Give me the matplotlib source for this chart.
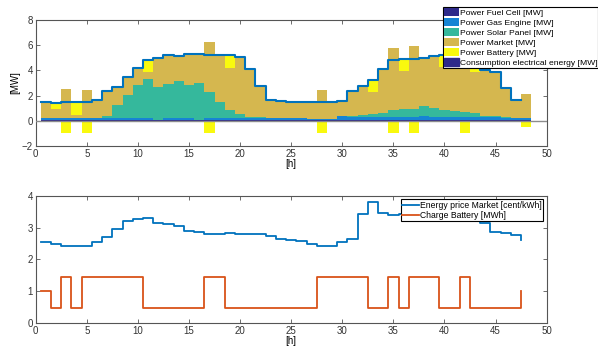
import numpy as np
import matplotlib
matplotlib.use("Agg")
import matplotlib.pyplot as plt
from matplotlib.patches import Patch

plt.rcParams["font.family"] = ["Liberation Sans", "DejaVu Sans"]
plt.rcParams["font.size"] = 7

# ---------------------------------------------------------------
# data
# ---------------------------------------------------------------
hours = np.arange(1, 49)

demand = [1.53, 1.42, 1.53, 1.47, 1.47, 1.67, 2.33, 2.67, 3.47, 4.20,
          4.84, 5.00, 5.22, 5.16, 5.33, 5.29, 5.24, 5.24, 5.22, 5.04,
          4.08, 2.80, 1.67, 1.61, 1.52, 1.52, 1.46, 1.46, 1.46, 1.59,
          2.38, 2.78, 3.25, 4.13, 4.79, 4.92, 4.90, 4.97, 5.16, 5.24,
          5.20, 5.00, 4.90, 4.05, 3.86, 2.59, 1.62, 1.62]

fuel_cell = [0.10] * 48

gas_engine = [0.12, 0.12, 0.12, 0.12, 0.12, 0.12, 0.12, 0.12, 0.12, 0.12,
              0.12, 0.00, 0.12, 0.12, 0.12, 0.00, 0.12, 0.12, 0.12, 0.12,
              0.12, 0.12, 0.12, 0.16, 0.16, 0.16, 0.08, 0.08, 0.08, 0.27,
              0.20, 0.20, 0.20, 0.20, 0.20, 0.20, 0.20, 0.30, 0.20, 0.20,
              0.20, 0.20, 0.20, 0.18, 0.18, 0.15, 0.15, 0.15]

solar = [0.00, 0.00, 0.00, 0.00, 0.00, 0.00, 0.18, 1.05, 1.84, 2.64,
         3.11, 2.60, 2.72, 2.95, 2.64, 2.92, 2.08, 1.29, 0.65, 0.28,
         0.07, 0.05, 0.00, 0.00, 0.00, 0.00, 0.00, 0.00, 0.00, 0.00,
         0.10, 0.18, 0.20, 0.32, 0.52, 0.66, 0.65, 0.80, 0.75, 0.52,
         0.45, 0.36, 0.30, 0.08, 0.08, 0.05, 0.00, 0.00]

battery = [0.0, 0.5, -1.0, 1.0, -1.0, 0.0, 0.0, 0.0, 0.0, 0.0,
           1.0, 0.0, 0.0, 0.0, 0.0, 0.0, -1.0, 0.0, 1.0, 0.0,
           0.0, 0.0, 0.0, 0.0, 0.0, 0.0, 0.0, -1.0, 0.0, 0.0,
           0.0, 0.0, 1.0, 0.0, -1.0, 1.0, -1.0, 0.0, 0.0, 1.0,
           0.0, -1.0, 1.0, 0.0, 0.0, 0.0, 0.0, -0.5]

price = [2.54, 2.48, 2.42, 2.42, 2.42, 2.55, 2.71, 2.96, 3.22, 3.28,
         3.32, 3.15, 3.12, 3.04, 2.91, 2.88, 2.80, 2.80, 2.83, 2.81,
         2.81, 2.80, 2.75, 2.65, 2.62, 2.57, 2.49, 2.41, 2.44, 2.56,
         2.64, 3.44, 3.80, 3.46, 3.41, 3.44, 3.48, 3.50, 3.52, 3.48,
         3.45, 3.40, 3.30, 3.14, 2.88, 2.85, 2.77, 2.62]

charge = [1.00, 0.46, 1.44, 0.46, 1.44, 1.44, 1.44, 1.44, 1.44, 1.44,
          0.46, 0.46, 0.46, 0.46, 0.46, 0.46, 1.44, 1.44, 0.46, 0.46,
          0.46, 0.46, 0.46, 0.46, 0.46, 0.46, 0.46, 1.44, 1.44, 1.44,
          1.44, 1.44, 0.46, 0.46, 1.44, 0.46, 1.44, 1.44, 1.44, 0.46,
          0.46, 1.44, 0.46, 0.46, 0.46, 0.46, 0.46, 1.00]

# ---------------------------------------------------------------
# colours
# ---------------------------------------------------------------
C_FUEL = "#2e2a8a"
C_GAS = "#1684d4"
C_SOLAR = "#35b89c"
C_MARKET = "#d5b74f"
C_BATT = "#f9f90e"
C_LINE = "#0072bd"
C_ORANGE = "#d95319"
AX_COL = "#555555"

demand = np.array(demand)
fuel_cell = np.array(fuel_cell)
gas_engine = np.array(gas_engine)
solar = np.array(solar)
battery = np.array(battery)
market = demand - fuel_cell - gas_engine - solar - battery


def style_axes(ax):
    for s in ax.spines.values():
        s.set_color(AX_COL)
        s.set_linewidth(0.8)
    ax.tick_params(direction="in", top=True, right=True, length=3,
                   width=0.6, color=AX_COL, labelcolor="#333333", pad=2)


fig = plt.figure(figsize=(5.98, 3.49), dpi=100)
ax1 = fig.add_axes([0.0597, 0.5817, 0.8545, 0.361])
ax2 = fig.add_axes([0.0597, 0.0745, 0.8545, 0.3639])

# ---------------------------------------------------------------
# top: stacked power bars
# ---------------------------------------------------------------
b1 = ax1.bar(hours, fuel_cell, width=1, color=C_FUEL, linewidth=0)
bot = fuel_cell.copy()
b2 = ax1.bar(hours, gas_engine, width=1, bottom=bot, color=C_GAS, linewidth=0)
bot = bot + gas_engine
b3 = ax1.bar(hours, solar, width=1, bottom=bot, color=C_SOLAR, linewidth=0)
bot = bot + solar
b4 = ax1.bar(hours, market, width=1, bottom=bot, color=C_MARKET, linewidth=0)
bot = bot + market
batt_bottom = np.where(battery > 0, bot, 0.0)
b5 = ax1.bar(hours, battery, width=1, bottom=batt_bottom, color=C_BATT,
             linewidth=0)

ax1.axhline(0, color="#8c8c8c", linewidth=1.0, zorder=3)
ax1.step(hours - 0.5, demand, where="post", color=C_LINE, linewidth=1.5,
         zorder=4)

ax1.set_xlim(0, 50)
ax1.set_ylim(-2, 8)
ax1.set_xticks(np.arange(0, 51, 5))
ax1.set_yticks(np.arange(-2, 9, 2))
ax1.set_xlabel("[h]", labelpad=0)
ax1.set_ylabel("[MW]", labelpad=1)
style_axes(ax1)

handles = [b1, b2, b3, b4, b5, Patch(color=C_FUEL)]
labels = ["Power Fuel Cell [MW]", "Power Gas Engine [MW]",
          "Power Solar Panel [MW]", "Power Market [MW]",
          "Power Battery [MW]", "Consumption electrical energy [MW]"]
leg1 = ax1.legend(handles, labels, loc="upper left",
                  bbox_to_anchor=(443 / 598, 1 - 7 / 349),
                  bbox_transform=fig.transFigure, fancybox=False,
                  framealpha=1, edgecolor="black", borderpad=0.15,
                  labelspacing=0.15, handlelength=1.7, handleheight=1.0,
                  handletextpad=0.1, borderaxespad=0, fontsize=6.1)
leg1.get_frame().set_linewidth(0.8)
leg1.set_zorder(10)

# ---------------------------------------------------------------
# bottom: price and battery charge
# ---------------------------------------------------------------
ax2.step(hours - 0.5, price, where="post", color=C_LINE, linewidth=1.3,
         label="Energy price Market [cent/kWh]")
ax2.step(hours - 0.5, charge, where="post", color=C_ORANGE, linewidth=1.3,
         label="Charge Battery [MWh]")
ax2.set_xlim(0, 50)
ax2.set_ylim(0, 4)
ax2.set_xticks(np.arange(0, 51, 5))
ax2.set_yticks(np.arange(0, 5, 1))
ax2.set_xlabel("[h]", labelpad=0)
style_axes(ax2)

leg2 = ax2.legend(loc="upper right", fancybox=False, framealpha=1,
                  edgecolor="black", borderpad=0.15, labelspacing=0.1,
                  handlelength=2.0, handletextpad=0.1, borderaxespad=0.4,
                  fontsize=6.2)
leg2.get_frame().set_linewidth(0.8)

fig.savefig("out.png", dpi=100)
